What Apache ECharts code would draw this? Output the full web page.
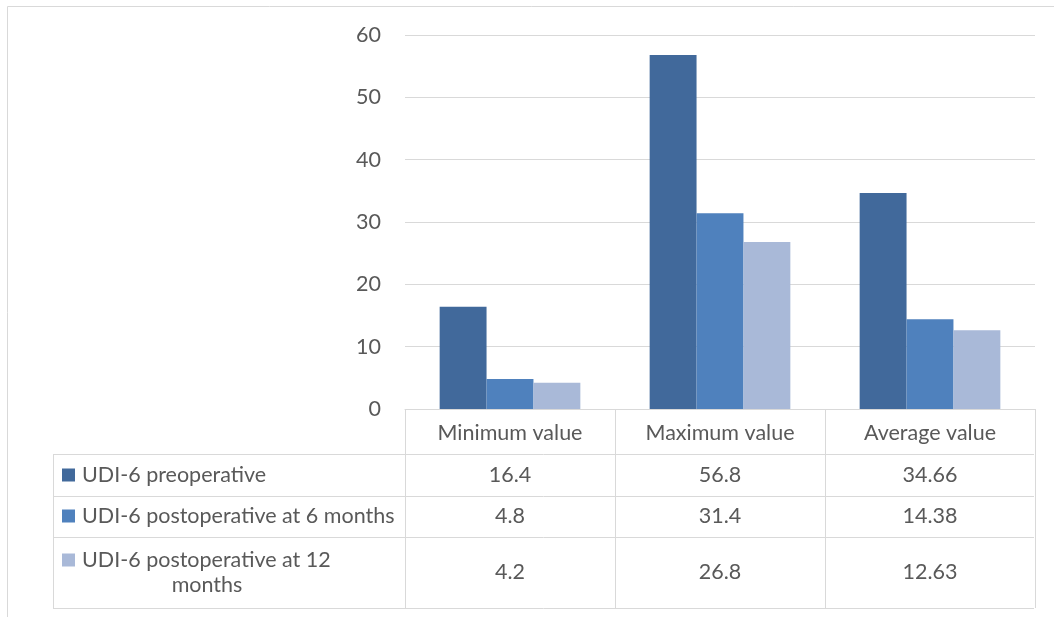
<!DOCTYPE html>
<html>
<head>
<meta charset="utf-8">
<script src="https://cdn.jsdelivr.net/npm/echarts@6/dist/echarts.min.js"></script>
<style>
  html, body { margin: 0; padding: 0; background: #fff; }
  #main { width: 1054px; height: 617px; }
</style>
</head>
<body>
<div id="main"></div>
<script>
const categories = ['Minimum value', 'Maximum value', 'Average value']
const seriesNames = ['UDI-6 preoperative', 'UDI-6 postoperative at 6 months', 'UDI-6 postoperative at 12 months']
const preoperative = [16.4, 56.8, 34.66]
const postop6 = [4.8, 31.4, 14.38]
const postop12 = [4.2, 26.8, 12.63]
const yTicks = [0, 10, 20, 30, 40, 50, 60]

const colors = ['#41699b', '#4f81bd', '#a9b9d8']
const font = 'Lato, "Liberation Sans", sans-serif'
const fontSize = 21.5
const textColor = '#595959'
const lineColor = '#d9d9d9'

const seriesData = [preoperative, postop6, postop12]

const chart = echarts.init(document.getElementById('main'))

chart.setOption({
  animation: false,
  grid: { left: 405, right: 19, top: 35, bottom: 208 },
  xAxis: {
    type: 'category',
    data: categories,
    axisLine: { lineStyle: { color: lineColor, width: 1 } },
    axisTick: { show: true, interval: 0, length: 199, lineStyle: { color: lineColor, width: 1 } },
    axisLabel: { interval: 0, margin: 13, fontSize, fontFamily: font, color: textColor }
  },
  yAxis: {
    type: 'value',
    min: yTicks[0],
    max: yTicks[yTicks.length - 1],
    interval: 10,
    axisLine: { show: false },
    axisTick: { show: false },
    splitLine: { lineStyle: { color: lineColor, width: 1 } },
    axisLabel: { margin: 24, fontSize, fontFamily: font, color: textColor }
  },
  series: seriesData.map((data, i) => ({
    name: seriesNames[i],
    type: 'bar',
    data,
    barGap: '0%',
    barCategoryGap: '33%',
    itemStyle: { color: colors[i] }
  }))
})

// data table under the plot, built from the same arrays
const tableLeft = 53
const tableRight = 1034
const rowLines = [454, 496, 537, 608]
const rowCenters = [475, 516, 572]
const textFont = fontSize + 'px ' + font
const graphics = []

// outer chart border
graphics.push({
  type: 'rect',
  shape: { x: 7.5, y: 6.5, width: 1100, height: 700 },
  style: { fill: null, stroke: lineColor, lineWidth: 1 }
})

for (const y of rowLines) {
  graphics.push({
    type: 'line',
    shape: { x1: tableLeft, y1: y + 0.5, x2: tableRight, y2: y + 0.5 },
    style: { stroke: lineColor, lineWidth: 1 }
  })
}
graphics.push({
  type: 'line',
  shape: { x1: tableLeft + 0.5, y1: rowLines[0], x2: tableLeft + 0.5, y2: rowLines[3] },
  style: { stroke: lineColor, lineWidth: 1 }
})

for (let s = 0; s < seriesNames.length; s++) {
  const cy = rowCenters[s]
  const wrapped = s === 2
  graphics.push({
    type: 'rect',
    shape: { x: 62, y: (wrapped ? cy - 12 : cy) - 6.5, width: 13, height: 13 },
    style: { fill: colors[s] }
  })
  if (wrapped) {
    const words = seriesNames[s].split(' ')
    graphics.push({
      type: 'text',
      style: { x: 82, y: cy - 12, text: words.slice(0, -1).join(' '), font: textFont, fill: textColor, textVerticalAlign: 'middle' }
    })
    graphics.push({
      type: 'text',
      style: { x: 207, y: cy + 13, text: words[words.length - 1], font: textFont, fill: textColor, textAlign: 'center', textVerticalAlign: 'middle' }
    })
  } else {
    graphics.push({
      type: 'text',
      style: { x: 82, y: cy, text: seriesNames[s], font: textFont, fill: textColor, textVerticalAlign: 'middle' }
    })
  }
  for (let c = 0; c < categories.length; c++) {
    const cx = chart.convertToPixel({ xAxisIndex: 0 }, c)
    graphics.push({
      type: 'text',
      style: { x: cx, y: cy, text: String(seriesData[s][c]), font: textFont, fill: textColor, textAlign: 'center', textVerticalAlign: 'middle' }
    })
  }
}

chart.setOption({ graphic: graphics.map((g) => Object.assign({ silent: true }, g)) })
</script>
</body>
</html>
